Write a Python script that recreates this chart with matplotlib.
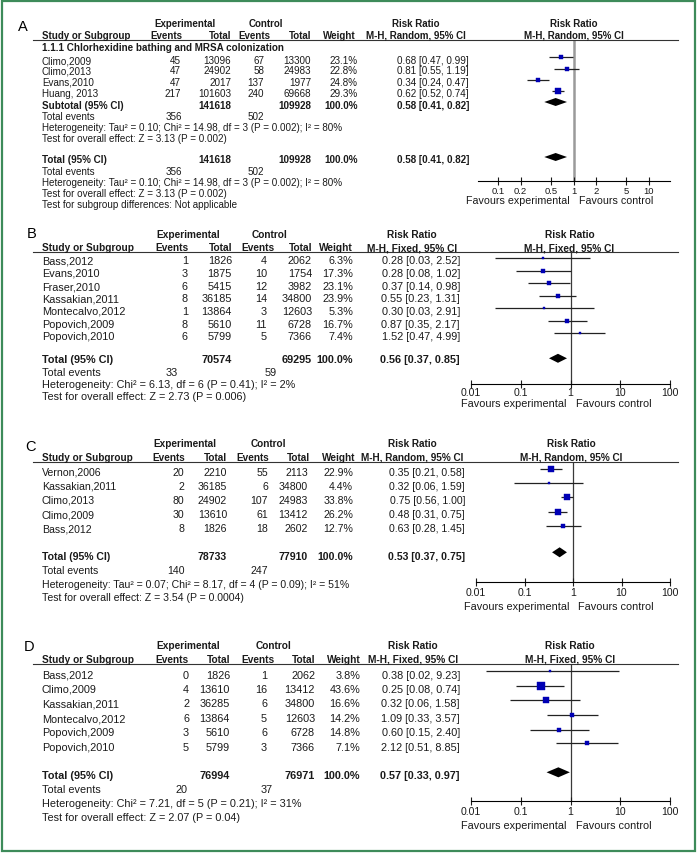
import numpy as np
import matplotlib
matplotlib.use('Agg')
import matplotlib.pyplot as plt
from matplotlib.lines import Line2D
from matplotlib.patches import Rectangle
from matplotlib.ticker import NullLocator

plt.rcParams['font.family'] = ['Liberation Sans', 'DejaVu Sans']

W, H = 697, 854
TXT = '#1a1a1a'
BLUE = '#0000b4'

# ---------------- data ----------------
# A: chlorhexidine bathing and MRSA colonization (random effects)
a_study = ['Climo,2009', 'Climo,2013', 'Evans,2010', 'Huang, 2013']
a_exp_ev = [45, 47, 47, 217]
a_exp_n = [13096, 24902, 2017, 101603]
a_ctl_ev = [67, 58, 137, 240]
a_ctl_n = [13300, 24983, 1977, 69668]
a_weight = [23.1, 22.8, 24.8, 29.3]
a_rr = [0.68, 0.81, 0.34, 0.62]
a_lo = [0.47, 0.55, 0.24, 0.52]
a_hi = [0.99, 1.19, 0.47, 0.74]
a_pool = (0.58, 0.41, 0.82)
a_tot_n = (141618, 109928)
a_tot_ev = (356, 502)
a_group = '1.1.1 Chlorhexidine bathing and MRSA colonization'
a_het = 'Heterogeneity: Tau\u00b2 = 0.10; Chi\u00b2 = 14.98, df = 3 (P = 0.002); I\u00b2 = 80%'
a_test = 'Test for overall effect: Z = 3.13 (P = 0.002)'
a_diff = 'Test for subgroup differences: Not applicable'
a_ticks = [0.1, 0.2, 0.5, 1, 2, 5, 10]
a_ticklabels = ['0.1', '0.2', '0.5', '1', '2', '5', '10']

# B (fixed effects)
b_study = ['Bass,2012', 'Evans,2010', 'Fraser,2010', 'Kassakian,2011',
           'Montecalvo,2012', 'Popovich,2009', 'Popovich,2010']
b_exp_ev = [1, 3, 6, 8, 1, 8, 6]
b_exp_n = [1826, 1875, 5415, 36185, 13864, 5610, 5799]
b_ctl_ev = [4, 10, 12, 14, 3, 11, 5]
b_ctl_n = [2062, 1754, 3982, 34800, 12603, 6728, 7366]
b_weight = [6.3, 17.3, 23.1, 23.9, 5.3, 16.7, 7.4]
b_rr = [0.28, 0.28, 0.37, 0.55, 0.30, 0.87, 1.52]
b_lo = [0.03, 0.08, 0.14, 0.23, 0.03, 0.35, 0.47]
b_hi = [2.52, 1.02, 0.98, 1.31, 2.91, 2.17, 4.99]
b_pool = (0.56, 0.37, 0.85)
b_tot_n = (70574, 69295)
b_tot_ev = (33, 59)
b_het = 'Heterogeneity: Chi\u00b2 = 6.13, df = 6 (P = 0.41); I\u00b2 = 2%'
b_test = 'Test for overall effect: Z = 2.73 (P = 0.006)'

# C (random effects)
c_study = ['Vernon,2006', 'Kassakian,2011', 'Climo,2013', 'Climo,2009', 'Bass,2012']
c_exp_ev = [20, 2, 80, 30, 8]
c_exp_n = [2210, 36185, 24902, 13610, 1826]
c_ctl_ev = [55, 6, 107, 61, 18]
c_ctl_n = [2113, 34800, 24983, 13412, 2602]
c_weight = [22.9, 4.4, 33.8, 26.2, 12.7]
c_rr = [0.35, 0.32, 0.75, 0.48, 0.63]
c_lo = [0.21, 0.06, 0.56, 0.31, 0.28]
c_hi = [0.58, 1.59, 1.00, 0.75, 1.45]
c_pool = (0.53, 0.37, 0.75)
c_tot_n = (78733, 77910)
c_tot_ev = (140, 247)
c_het = 'Heterogeneity: Tau\u00b2 = 0.07; Chi\u00b2 = 8.17, df = 4 (P = 0.09); I\u00b2 = 51%'
c_test = 'Test for overall effect: Z = 3.54 (P = 0.0004)'

# D (fixed effects)
d_study = ['Bass,2012', 'Climo,2009', 'Kassakian,2011', 'Montecalvo,2012',
           'Popovich,2009', 'Popovich,2010']
d_exp_ev = [0, 4, 2, 6, 3, 5]
d_exp_n = [1826, 13610, 36285, 13864, 5610, 5799]
d_ctl_ev = [1, 16, 6, 5, 6, 3]
d_ctl_n = [2062, 13412, 34800, 12603, 6728, 7366]
d_weight = [3.8, 43.6, 16.6, 14.2, 14.8, 7.1]
d_rr = [0.38, 0.25, 0.32, 1.09, 0.60, 2.12]
d_lo = [0.02, 0.08, 0.06, 0.33, 0.15, 0.51]
d_hi = [9.23, 0.74, 1.58, 3.57, 2.40, 8.85]
d_pool = (0.57, 0.33, 0.97)
d_tot_n = (76994, 76971)
d_tot_ev = (20, 37)
d_het = 'Heterogeneity: Chi\u00b2 = 7.21, df = 5 (P = 0.21); I\u00b2 = 31%'
d_test = 'Test for overall effect: Z = 2.07 (P = 0.04)'

log_ticks = [0.01, 0.1, 1, 10, 100]
log_ticklabels = ['0.01', '0.1', '1', '10', '100']

# ---------------- layout (pixels) ----------------
LA = dict(tag='A', letter=(23, 27), h1=24, h2=36, line=41, hs=7.0, ds=7.1,
          hdr=dict(ev1=182, n1=231, ev2=270, n2=311, wt=356),
          col=dict(ev1=181, n1=231, ev2=264, n2=311, wt=358, rr=469),
          exp_c=185, ctl_c=266, rr_c=416, fp_c=573.5, tev_x=(182, 264),
          rows=[61, 71.5, 82.7, 94.3], marks=[58, 69.5, 81, 91.5],
          box=(478, 670, 41, 182), xlim=(0.0543, 18.97), pad=0.9,
          fav=19.5, scale=0.95, hh=4, vcol='#9a9a9a', vlw=1.8, fs=7.7)
LB = dict(tag='B', letter=(32, 234), h1=235, h2=248.3, line=253, hs=7.3, ds=7.8,
          hdr=dict(ev1=188, n1=232, ev2=275, n2=312, wt=353),
          col=dict(ev1=188, n1=232, ev2=267, n2=312, wt=353, rr=460),
          exp_c=188, ctl_c=269, rr_c=412, fp_c=569.5, tev_x=(178, 277),
          rows=[261, 274, 287, 299, 312, 325, 337],
          marks=[259, 271.7, 284, 296.7, 309, 321.7, 334.3],
          box=(471, 670, 253, 385), xlim=(0.01, 100), pad=-0.9,
          fav=19.5, scale=1.02, hh=4.5, vcol='#3a3a3a', vlw=0.9, fs=7.85)
LC = dict(tag='C', letter=(30, 447), h1=444, h2=457.7, line=463, hs=7.2, ds=7.55,
          hdr=dict(ev1=185, n1=227, ev2=269, n2=310, wt=355),
          col=dict(ev1=184, n1=227, ev2=268, n2=308, wt=353, rr=465),
          exp_c=185, ctl_c=268, rr_c=412, fp_c=571, tev_x=(185, 268),
          rows=[472.7, 486.7, 501, 515, 529.3],
          marks=[470, 484, 498.3, 512.7, 526.7],
          box=(476, 670, 463, 583), xlim=(0.01, 100), pad=0.5,
          fav=24, scale=1.15, hh=5, vcol='#3a3a3a', vlw=0.9, fs=7.85)
LD = dict(tag='D', letter=(29, 647), h1=645.7, h2=660, line=665, hs=7.3, ds=7.8,
          hdr=dict(ev1=188, n1=230, ev2=274, n2=315, wt=361),
          col=dict(ev1=189, n1=230, ev2=267, n2=315, wt=360, rr=460),
          exp_c=188, ctl_c=273, rr_c=413, fp_c=570, tev_x=(188, 273),
          rows=[676, 690, 704.3, 719, 733.3, 747.7],
          marks=[672.3, 686.7, 701, 715.7, 730.7, 744.3],
          box=(471, 670, 665, 802), xlim=(0.01, 100), pad=0.5,
          fav=24, scale=1.25, hh=5, vcol='#3a3a3a', vlw=0.9, fs=7.85)

fig = plt.figure(figsize=(W / 100, H / 100), dpi=100)


def put(x, y, s, ha='left', bold=False, size=7.0, color=TXT):
    fig.text(x / W, 1 - y / H, s, ha=ha, va='center', fontsize=size,
             fontweight='bold' if bold else 'normal', color=color)


def rr_text(r, l, h):
    return f'{r:.2f} [{l:.2f}, {h:.2f}]'


def header(L, mh):
    hs = L['hs']
    put(L['letter'][0], L['letter'][1], L['tag'], 'center', False, 10.5, 'black')
    put(L['exp_c'], L['h1'], 'Experimental', 'center', True, hs)
    put(L['ctl_c'], L['h1'], 'Control', 'center', True, hs)
    put(L['rr_c'], L['h1'], 'Risk Ratio', 'center', True, hs)
    put(L['fp_c'], L['h1'], 'Risk Ratio', 'center', True, hs)
    put(42, L['h2'], 'Study or Subgroup', 'left', True, hs)
    for key, s in zip(['ev1', 'n1', 'ev2', 'n2', 'wt'],
                      ['Events', 'Total', 'Events', 'Total', 'Weight']):
        put(L['hdr'][key], L['h2'], s, 'right', True, hs)
    put(L['rr_c'], L['h2'], mh, 'center', True, hs)
    put(L['fp_c'], L['h2'], mh, 'center', True, hs)
    y = 1 - L['line'] / H
    fig.add_artist(Line2D([33 / W, 678 / W], [y, y], color='#333333', lw=0.8))


def study_rows(L, names, e1, n1, e2, n2, wt, rr, lo, hi):
    c, ds = L['col'], L['ds']
    for i, y in enumerate(L['rows']):
        put(42, y, names[i], size=ds)
        put(c['ev1'], y, str(e1[i]), 'right', size=ds)
        put(c['n1'], y, str(n1[i]), 'right', size=ds)
        put(c['ev2'], y, str(e2[i]), 'right', size=ds)
        put(c['n2'], y, str(n2[i]), 'right', size=ds)
        put(c['wt'], y, f'{wt[i]:.1f}%', 'right', size=ds)
        put(c['rr'], y, rr_text(rr[i], lo[i], hi[i]), 'right', size=ds)


def total_row(L, y, label, tot_n, pool):
    c, ds = L['col'], L['ds']
    put(42, y, label, bold=True, size=ds)
    put(c['n1'], y, str(tot_n[0]), 'right', True, ds)
    put(c['n2'], y, str(tot_n[1]), 'right', True, ds)
    put(c['wt'], y, '100.0%', 'right', True, ds)
    put(c['rr'], y, rr_text(*pool), 'right', True, ds)


def footer(L, y0, tot_ev, het, test, step):
    ds = L['ds']
    put(42, y0, 'Total events', size=ds)
    put(L['tev_x'][0], y0, str(tot_ev[0]), 'right', size=ds)
    put(L['tev_x'][1], y0, str(tot_ev[1]), 'right', size=ds)
    put(42, y0 + step, het, size=ds)
    put(42, y0 + 2 * step, test, size=ds)


def forest(L, rr, lo, hi, wt, pools, ticks, labels, tsize):
    x0, x1, y0, y1 = L['box']
    ax = fig.add_axes([x0 / W, 1 - y1 / H, (x1 - x0) / W, (y1 - y0) / H])
    ax.set_xscale('log')
    ax.set_xlim(*L['xlim'])
    ax.set_ylim(y1, y0)
    ax.patch.set_alpha(0)
    for s in ['top', 'left', 'right']:
        ax.spines[s].set_visible(False)
    ax.spines['bottom'].set_linewidth(0.8)
    ax.axvline(1, color=L['vcol'], lw=L['vlw'], zorder=1)
    ax.hlines(L['marks'], lo, hi, color='#222222', lw=0.9, zorder=2)
    for y, r, w in zip(L['marks'], rr, wt):
        side = max(2.2, L['scale'] * np.sqrt(w))
        ax.plot(r, y, 's', ms=side * 0.72, color=BLUE, mec=BLUE, mew=0.3, zorder=3)
    for (est, l, h), yd in pools:
        ax.fill([l, est, h, est], [yd, yd - L['hh'], yd, yd + L['hh']],
                color='black', lw=0, zorder=3)
    ax.set_xticks(ticks, labels)
    ax.xaxis.set_minor_locator(NullLocator())
    ax.set_yticks([])
    ax.tick_params(axis='x', direction='inout', length=5.8, width=0.8,
                   labelsize=tsize, pad=L['pad'], colors=TXT)
    ax.annotate('Favours experimental', xy=(1, 0), xycoords=('data', 'axes fraction'),
                xytext=(-4, -L['fav']), textcoords='offset pixels', ha='right',
                va='center', fontsize=L['fs'], color=TXT, annotation_clip=False)
    ax.annotate('Favours control', xy=(1, 0), xycoords=('data', 'axes fraction'),
                xytext=(5, -L['fav']), textcoords='offset pixels', ha='left',
                va='center', fontsize=L['fs'], color=TXT, annotation_clip=False)


# ---- panel A
header(LA, 'M-H, Random, 95% CI')
put(42, 48.3, a_group, bold=True, size=LA['ds'])
study_rows(LA, a_study, a_exp_ev, a_exp_n, a_ctl_ev, a_ctl_n, a_weight, a_rr, a_lo, a_hi)
total_row(LA, 106, 'Subtotal (95% CI)', a_tot_n, a_pool)
footer(LA, 117.3, a_tot_ev, a_het, a_test, 10.9)
total_row(LA, 160, 'Total (95% CI)', a_tot_n, a_pool)
footer(LA, 172.3, a_tot_ev, a_het, a_test, 11)
put(42, 205, a_diff, size=LA['ds'])
forest(LA, a_rr, a_lo, a_hi, a_weight, [(a_pool, 103), (a_pool, 158)],
       a_ticks, a_ticklabels, 6.8)

# ---- panel B
header(LB, 'M-H, Fixed, 95% CI')
study_rows(LB, b_study, b_exp_ev, b_exp_n, b_ctl_ev, b_ctl_n, b_weight, b_rr, b_lo, b_hi)
total_row(LB, 360, 'Total (95% CI)', b_tot_n, b_pool)
footer(LB, 373, b_tot_ev, b_het, b_test, 12)
forest(LB, b_rr, b_lo, b_hi, b_weight, [(b_pool, 359.3)], log_ticks, log_ticklabels, 7.6)

# ---- panel C
header(LC, 'M-H, Random, 95% CI')
study_rows(LC, c_study, c_exp_ev, c_exp_n, c_ctl_ev, c_ctl_n, c_weight, c_rr, c_lo, c_hi)
total_row(LC, 556.7, 'Total (95% CI)', c_tot_n, c_pool)
footer(LC, 571, c_tot_ev, c_het, c_test, 13.6)
forest(LC, c_rr, c_lo, c_hi, c_weight, [(c_pool, 553.3)], log_ticks, log_ticklabels, 7.6)

# ---- panel D
header(LD, 'M-H, Fixed, 95% CI')
study_rows(LD, d_study, d_exp_ev, d_exp_n, d_ctl_ev, d_ctl_n, d_weight, d_rr, d_lo, d_hi)
total_row(LD, 776, 'Total (95% CI)', d_tot_n, d_pool)
footer(LD, 790, d_tot_ev, d_het, d_test, 14.1)
forest(LD, d_rr, d_lo, d_hi, d_weight, [(d_pool, 773.3)], log_ticks, log_ticklabels, 7.6)

# green frame
fig.add_artist(Rectangle((1.5 / W, 1 - 851.5 / H), 693 / W, 850 / H,
                         transform=fig.transFigure, fill=False,
                         ec='#3d8b5a', lw=1.6))

fig.savefig('out.png', dpi=100)
